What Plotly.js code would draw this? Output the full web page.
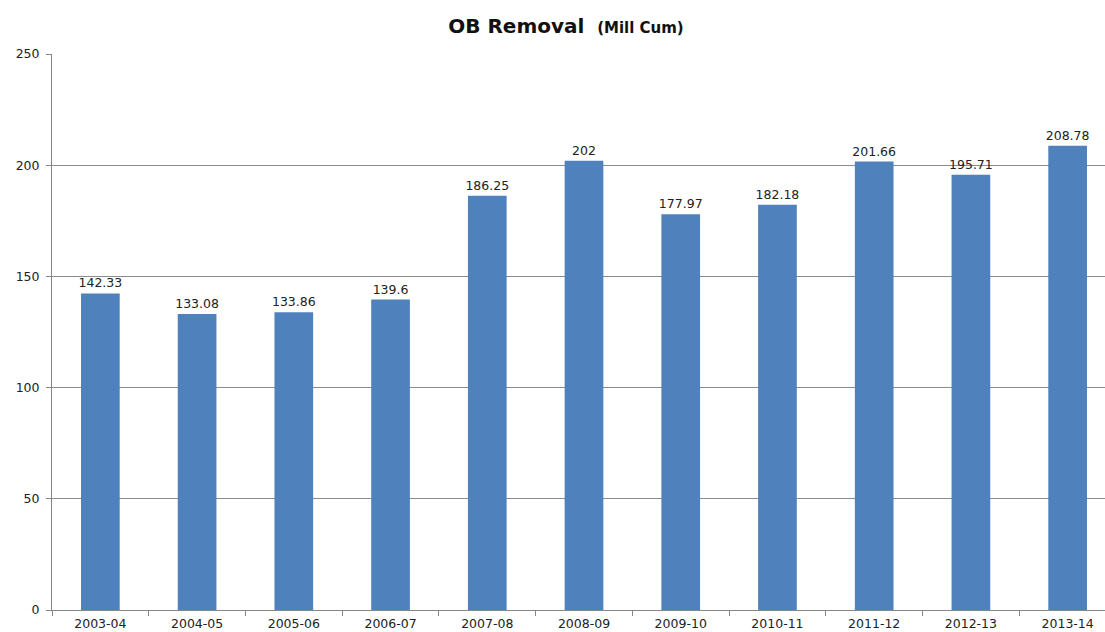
<!DOCTYPE html>
<html>
<head>
<meta charset="utf-8">
<script src="https://cdn.plot.ly/plotly-3.0.1.min.js"></script>
<style>
html,body{margin:0;padding:0;overflow:hidden;background:#fff;width:1105px;height:632px;}
#chart{width:1125px;height:632px;}
</style>
</head>
<body>
<div id="chart"></div>
<script>
const categories = ["2003-04","2004-05","2005-06","2006-07","2007-08","2008-09","2009-10","2010-11","2011-12","2012-13","2013-14"];
const obRemoval = [142.33,133.08,133.86,139.6,186.25,202,177.97,182.18,201.66,195.71,208.78];
const valueLabels = ["142.33","133.08","133.86","139.6","186.25","202","177.97","182.18","201.66","195.71","208.78"];
const yTicks = [0,50,100,150,200,250];

const FONT = "DejaVu Sans, Verdana, sans-serif";

const trace = {
  type: "bar",
  x: categories,
  y: obRemoval,
  text: valueLabels,
  textposition: "outside",
  constraintext: "none",
  textfont: {family: FONT, size: 12.5, color: "#222"},
  cliponaxis: false,
  marker: {color: "#4F81BD"},
  hoverinfo: "x+y"
};

const layout = {
  width: 1125,
  height: 632,
  paper_bgcolor: "#fff",
  plot_bgcolor: "#fff",
  margin: {l: 52, r: 9, t: 54, b: 22},
  bargap: 0.6,
  showlegend: false,
  font: {family: FONT, size: 12.5, color: "#222"},
  title: {
    text: "<b>OB Removal</b>  <b><span style='font-size:15px'>(Mill Cum)</span></b>",
    font: {family: FONT, size: 20, color: "#111"},
    x: 566/1125, xref: "container", xanchor: "center",
    y: 1 - 26/632, yref: "container", yanchor: "middle"
  },
  xaxis: {
    type: "category",
    tickson: "boundaries",
    ticks: "outside",
    ticklen: 5,
    tickcolor: "#868686",
    ticklabelstandoff: 2,
    showline: true,
    linecolor: "#868686",
    linewidth: 1,
    showgrid: false,
    tickfont: {family: FONT, size: 12.5, color: "#222"}
  },
  yaxis: {
    range: [0, 250],
    tickvals: yTicks,
    ticks: "outside",
    ticklen: 5,
    tickcolor: "#868686",
    ticklabelstandoff: 4,
    showline: true,
    linecolor: "#868686",
    linewidth: 1,
    showgrid: true,
    gridcolor: "#8c8c8c",
    gridwidth: 1,
    zeroline: false,
    tickfont: {family: FONT, size: 12.5, color: "#222"}
  }
};

Plotly.newPlot("chart", [trace], layout, {staticPlot: true, displayModeBar: false});
</script>
</body>
</html>
